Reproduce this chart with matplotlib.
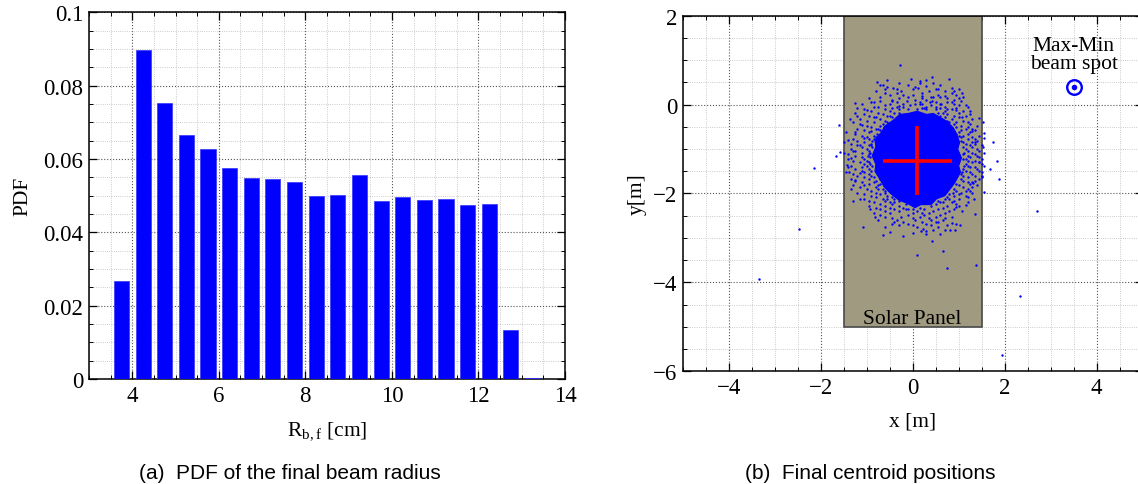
import matplotlib
matplotlib.use("Agg")
import matplotlib.pyplot as plt
from matplotlib.patches import Rectangle, Polygon
from matplotlib.ticker import MultipleLocator

plt.rcParams['font.family'] = ['Liberation Serif', 'DejaVu Serif']
plt.rcParams['mathtext.fontset'] = 'stix'
plt.rcParams['axes.unicode_minus'] = True

# ---- (a) histogram of final beam radius ----
radius_bins = [3.75, 4.25, 4.75, 5.25, 5.75, 6.25, 6.75, 7.25, 7.75, 8.25,
               8.75, 9.25, 9.75, 10.25, 10.75, 11.25, 11.75, 12.25, 12.75, 13.25]
pdf_values = [0.0266, 0.0897, 0.0753, 0.0666, 0.0628, 0.0576, 0.0548, 0.0545,
              0.0538, 0.0498, 0.0501, 0.0557, 0.0485, 0.0496, 0.0489, 0.0492,
              0.0475, 0.0476, 0.0134, 0.0004]
bar_width = 0.35

# ---- (b) final centroid positions ----
# outline of the fully covered core of the centroid cloud
core_x = [0.10, 0.30, 0.45, 0.62, 0.75, 0.88, 0.95, 1.02, 0.98, 1.06, 1.00,
          1.04, 0.92, 0.85, 0.70, 0.52, 0.40, 0.18, 0.05, -0.12, -0.30, -0.48,
          -0.62, -0.70, -0.82, -0.80, -0.88, -0.80, -0.82, -0.68, -0.60, -0.42,
          -0.28, -0.10]
core_y = [-0.15, -0.22, -0.20, -0.30, -0.38, -0.52, -0.65, -0.85, -1.00, -1.20,
          -1.38, -1.52, -1.75, -1.85, -2.05, -2.12, -2.25, -2.25, -2.32, -2.22,
          -2.15, -2.00, -1.85, -1.70, -1.50, -1.35, -1.15, -0.95, -0.80, -0.62,
          -0.48, -0.35, -0.22, -0.20]

# centroids in the speckled halo, listed row by row: (y, x positions)
halo_rows = [
    (0.55, [-0.55, 0.30]),
    (0.48, [-0.30, 0.15, 0.45]),
    (0.45, [-0.65, -0.10, 0.60]),
    (0.38, [-0.42, 0.12, 0.85]),
    (0.34, [-0.60, 0.00, 0.50, 1.00]),
    (0.30, [-0.80, -0.25, 0.35, 0.70]),
    (0.26, [-0.35, 0.20, 0.85]),
    (0.22, [-0.50, 0.00, 0.55, 0.95]),
    (0.18, [-0.70, -0.10, 0.40, 0.60, 1.10]),
    (0.15, [-0.95, -0.30, 0.20, 0.75]),
    (0.11, [-0.45, 0.05, 0.30, 0.90]),
    (0.08, [-0.70, -0.12, 0.42, 1.05]),
    (0.05, [-0.85, -0.35, 0.15, 0.50, 0.75]),
    (0.02, [-1.10, -0.50, -0.20, 0.05, 0.20, 0.60, 0.90]),
    (-0.02, [-0.60, -0.05, 0.40, 1.00]),
    (-0.05, [-0.85, -0.35, -0.20, 0.30, 0.70, 1.20]),
    (-0.07, [-1.20, -0.45, 0.20, 0.60, 0.95]),
    (-0.10, [-1.05, -0.60, -0.30, -0.10, 0.10, 0.30, 0.50, 0.85]),
    (-0.14, [-0.90, -0.50, 0.70, 1.10]),
    (-0.18, [-1.25, -0.75, -0.40, -0.30, 0.55, 0.65, 1.00]),
    (-0.21, [-1.05, -0.65, 0.75, 1.25]),
    (-0.25, [-0.95, -0.55, -0.50, 0.60, 0.90, 1.15]),
    (-0.28, [-0.80, -0.45, 0.70, 1.00]),
    (-0.32, [-1.15, -0.70, 0.85, 1.30]),
    (-0.36, [-1.00, -0.60, 0.75, 1.10]),
    (-0.40, [-1.30, -0.85, -0.55, -0.45, 0.80, 0.95, 1.20]),
    (-0.44, [-1.15, -0.65, 0.90, 1.25]),
    (-0.48, [-1.00, -0.70, 1.05, 1.40]),
    (-0.51, [-0.90, -0.62, 0.95, 1.20]),
    (-0.55, [-1.20, -0.80, -0.75, 0.85, 1.15, 1.30]),
    (-0.58, [-1.05, -0.70, 1.05, 1.35]),
    (-0.62, [-1.45, -0.95, 1.00, 1.25]),
    (-0.66, [-1.25, -0.78, 0.95, 1.20]),
    (-0.70, [-1.10, -0.85, 1.00, 1.10, 1.45]),
    (-0.74, [-1.00, -0.80, 1.05, 1.30]),
    (-0.78, [-1.30, -0.95, -0.85, 1.20, 1.35]),
    (-0.82, [-1.20, -0.88, 1.05, 1.40]),
    (-0.85, [-1.50, -1.05, 0.98, 1.10, 1.30]),
    (-0.89, [-1.35, -0.90, 1.15, 1.35]),
    (-0.92, [-1.20, -0.95, -0.90, 1.25, 1.50]),
    (-0.96, [-1.10, -0.88, 1.10, 1.30]),
    (-1.00, [-1.35, -1.00, 1.15, 1.40]),
    (-1.04, [-1.25, -0.95, 1.20, 1.45]),
    (-1.08, [-1.50, -1.10, -0.92, 1.12, 1.30, 1.55]),
    (-1.11, [-1.40, -0.95, 1.10, 1.35]),
    (-1.15, [-1.25, -0.98, 1.20, 1.40]),
    (-1.19, [-1.10, -0.92, 1.25, 1.45]),
    (-1.22, [-1.40, -1.05, 1.10, 1.15, 1.50]),
    (-1.26, [-1.30, -1.00, 1.20, 1.35]),
    (-1.30, [-1.15, -0.95, 1.30, 1.45]),
    (-1.34, [-1.05, -0.92, 1.15, 1.50]),
    (-1.38, [-1.35, -1.00, -0.88, 1.12, 1.20, 1.55]),
    (-1.41, [-1.40, -1.10, 1.25, 1.35]),
    (-1.45, [-1.25, -0.95, 1.10, 1.40]),
    (-1.49, [-1.10, -0.90, 1.15, 1.45]),
    (-1.52, [-1.45, -1.05, 1.08, 1.25, 1.50]),
    (-1.56, [-1.30, -0.95, 1.05, 1.30]),
    (-1.60, [-1.20, -0.90, 1.10, 1.35]),
    (-1.64, [-1.05, -0.85, 1.20, 1.50]),
    (-1.68, [-1.35, -0.95, -0.70, 1.05, 1.45]),
    (-1.71, [-1.25, -0.80, 1.10, 1.35]),
    (-1.75, [-1.10, -0.85, 1.20, 1.30]),
    (-1.79, [-0.95, -0.70, 0.95, 1.25]),
    (-1.82, [-1.30, -0.75, 1.00, 1.40]),
    (-1.86, [-1.15, -0.80, 1.10, 1.30]),
    (-1.90, [-1.00, -0.75, -0.65, 0.90, 1.20]),
    (-1.94, [-0.90, -0.60, 0.95, 1.15]),
    (-1.98, [-1.20, -0.80, -0.60, 0.88, 1.05, 1.30]),
    (-2.01, [-1.05, -0.70, 0.80, 1.00]),
    (-2.05, [-0.90, -0.55, 0.90, 1.15]),
    (-2.08, [-0.80, -0.45, 0.75, 1.20]),
    (-2.12, [-1.05, -0.65, -0.55, -0.40, 0.70, 0.80, 1.00]),
    (-2.16, [-0.95, -0.60, -0.30, 0.55, 0.90]),
    (-2.20, [-0.85, -0.50, -0.40, 0.60, 0.65, 0.85, 1.20]),
    (-2.24, [-0.70, -0.45, -0.15, 0.50, 0.95]),
    (-2.28, [-0.95, -0.60, -0.30, 0.40, 0.75, 1.00]),
    (-2.32, [-0.80, -0.50, -0.20, 0.15, 0.65]),
    (-2.36, [-0.70, -0.40, -0.15, -0.10, 0.00, 0.25, 0.55, 0.90]),
    (-2.40, [-0.60, -0.30, 0.10, 0.45, 0.80]),
    (-2.44, [-0.85, -0.50, 0.00, 0.20, 0.35, 0.70]),
    (-2.48, [-0.70, -0.10, 0.25, 0.60]),
    (-2.52, [-0.60, -0.25, 0.15, 0.50, 0.85]),
    (-2.56, [-0.45, 0.00, 0.35, 0.70]),
    (-2.60, [-0.75, -0.35, 0.05, 0.40, 0.65]),
    (-2.64, [-0.20, 0.20, 0.50]),
    (-2.68, [-0.45, -0.10, 0.30, 0.95]),
    (-2.72, [-0.30, 0.40, 0.75]),
    (-2.76, [-0.60, 0.10, 0.55]),
]

# sparse centroids further out
outer_x = [-0.28, 0.42, 0.78, -0.04, 0.17, -0.78, -0.70, -0.55, -0.35, 0.05,
           0.30, 0.55, 0.90, 1.07, -0.60, -0.20, 0.20, 0.45, 0.70, 1.00,
           -1.26, -0.90, -0.45, 0.15, 0.38, 0.62, 0.85, 1.15, -0.75, -0.30,
           0.25, 0.50, 0.75, 0.95, 1.25, -1.00, -1.20, -0.85, 1.08, -1.36,
           -1.60, 1.45, 1.52, -1.10, -0.90, -1.25, -1.05, -1.40, -1.15, -1.30,
           -1.58, -1.67, -1.33, -1.42, -1.38, -1.15, -1.25, -1.05, -1.35, -1.14,
           -1.29, -0.93, -0.82, -2.15, -2.47, -3.34, -1.09, -0.64, 1.30, 1.56,
           1.56, 1.75, 1.35, 1.52, 1.83, 1.45, 1.68, 1.50, 1.88, 1.32,
           1.25, 1.56, 1.34, 1.15, 0.95, 1.07, 1.36, 2.70, 0.85, 1.03,
           -0.49, -0.20, 0.23, 0.45, -0.40, 0.00, 0.55, 0.18, 0.28, 0.71,
           0.81, 0.91, 0.01, 0.30, 0.59, 0.41, 0.09, 0.65, 0.75, 1.38,
           2.33, 1.94]
outer_y = [0.89, 0.62, 0.57, 0.58, 0.54, 0.51, 0.45, 0.40, 0.35, 0.40,
           0.42, 0.35, 0.30, 0.27, 0.25, 0.22, 0.20, 0.18, 0.20, 0.15,
           0.04, 0.05, 0.08, 0.02, 0.05, 0.02, 0.06, 0.00, -0.05, -0.04,
           -0.08, -0.06, -0.10, -0.12, -0.15, -0.12, -0.25, -0.28, -0.28, -0.33,
           -0.45, -0.30, -0.39, -0.45, -0.60, -0.62, -0.75, -0.80, -0.90, -1.05,
           -1.07, -1.16, -1.20, -1.36, -1.52, -1.55, -1.70, -1.80, -1.90, -2.13,
           -2.18, -2.36, -2.53, -1.43, -2.79, -3.92, -2.75, -2.93, -0.60, -0.65,
           -0.75, -0.85, -0.85, -0.96, -1.28, -1.30, -1.44, -1.60, -1.67, -1.77,
           -1.95, -1.97, -2.12, -2.25, -2.30, -2.40, -2.46, -2.39, -2.66, -2.72,
           -2.86, -2.96, -2.79, -2.82, -2.65, -2.70, -2.65, -2.84, -2.84, -2.83,
           -2.83, -2.83, -2.90, -2.91, -2.91, -3.08, -3.38, -3.30, -3.68, -3.60,
           -4.31, -5.63]

cloud_x = outer_x + [x for y, xs in halo_rows for x in xs]
cloud_y = outer_y + [y for y, xs in halo_rows for x in xs]

mean_x, mean_y = 0.10, -1.26      # mean centroid
spread_x, spread_y = 0.75, 0.78   # half-length of the cross arms
panel_x = [-1.5, 1.5]
panel_y = [-5.0, 2.0]
maxmin_x, maxmin_y = 3.5, 0.4

TICK_FS = 16.5
LABEL_FS = 15.5

fig = plt.figure(figsize=(11.38, 4.85), dpi=100)

def style_axes(ax):
    ax.tick_params(which='both', direction='in', top=True, right=True,
                   labelsize=TICK_FS)
    ax.tick_params(which='major', length=6, width=0.9, pad=4)
    ax.tick_params(which='minor', length=3, width=0.7)
    ax.grid(which='major', color='#555555', linestyle=':', linewidth=0.8)
    ax.grid(which='minor', color='#bbbbbb', linestyle=':', linewidth=0.6)
    ax.set_axisbelow(True)
    for s in ax.spines.values():
        s.set_linewidth(1.1)

# (a)
ax1 = fig.add_axes([0.0782, 0.2165, 0.4183, 0.7561])
ax1.bar(radius_bins, pdf_values, width=bar_width, color='#0000ff',
        edgecolor='#3333ff', linewidth=0.5, zorder=3)
ax1.set_xlim(3, 14)
ax1.set_ylim(0, 0.1)
ax1.xaxis.set_major_locator(MultipleLocator(2))
ax1.xaxis.set_minor_locator(MultipleLocator(0.5))
ax1.yaxis.set_minor_locator(MultipleLocator(0.005))
ax1.set_yticks([0, 0.02, 0.04, 0.06, 0.08, 0.1])
ax1.set_yticklabels(['0', '0.02', '0.04', '0.06', '0.08', '0.1'])
style_axes(ax1)
ax1.set_ylabel('PDF', fontsize=LABEL_FS, labelpad=8)
ax1.set_xlabel(r'R$_\mathregular{b,f}$ [cm]', fontsize=LABEL_FS, labelpad=10)

# (b)
ax2 = fig.add_axes([0.5999, 0.2324, 0.4042, 0.7332])
ax2.add_patch(Rectangle((panel_x[0], panel_y[0]), panel_x[1] - panel_x[0],
                        panel_y[1] - panel_y[0], facecolor='#a09a80',
                        edgecolor='#4a4a4a', linewidth=1.2, zorder=1))
ax2.add_patch(Polygon(list(zip(core_x, core_y)), closed=True, facecolor='#0000ff',
                      edgecolor='#0000ff', linewidth=0.8, zorder=3))
ax2.scatter(cloud_x, cloud_y, s=3, color='#0000ff', marker='o',
            linewidths=0, zorder=3)
ax2.errorbar([mean_x], [mean_y], xerr=[spread_x], yerr=[spread_y], fmt='none',
             ecolor='#ff0000', elinewidth=2.6, capsize=0, zorder=4)
ax2.plot([maxmin_x], [maxmin_y], marker='o', markersize=10.5, markerfacecolor='none',
         markeredgecolor='#0000ff', markeredgewidth=1.7, zorder=4)
ax2.plot([maxmin_x], [maxmin_y], marker='o', markersize=3, color='#0000ff', zorder=4)
ax2.text(maxmin_x, 0.72, 'Max-Min\nbeam spot', ha='center', va='bottom',
         fontsize=LABEL_FS, linespacing=0.9, zorder=5)
ax2.text(0.0, -4.92, 'Solar Panel', ha='center', va='baseline',
         fontsize=LABEL_FS, zorder=5)
ax2.set_xlim(-5, 5)
ax2.set_ylim(-6, 2)
ax2.xaxis.set_major_locator(MultipleLocator(2))
ax2.xaxis.set_minor_locator(MultipleLocator(0.5))
ax2.yaxis.set_major_locator(MultipleLocator(2))
ax2.yaxis.set_minor_locator(MultipleLocator(0.5))
style_axes(ax2)
ax2.set_xlabel('x [m]', fontsize=LABEL_FS, labelpad=10)
ax2.set_ylabel('y[m]', fontsize=LABEL_FS, labelpad=4)

cap_font = ['Liberation Sans', 'DejaVu Sans']
fig.text(0.2548, 0.012, '(a)  PDF of the final beam radius', ha='center',
         va='baseline', fontsize=15, family=cap_font)
fig.text(0.7645, 0.012, '(b)  Final centroid positions', ha='center',
         va='baseline', fontsize=15, family=cap_font)

fig.savefig('out.png', dpi=100)
